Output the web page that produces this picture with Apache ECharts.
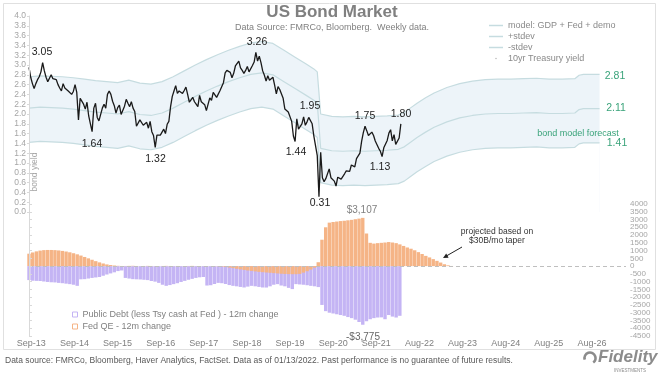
<!DOCTYPE html>
<html><head><meta charset="utf-8">
<script src="https://cdn.jsdelivr.net/npm/echarts@6/dist/echarts.min.js"></script>
<style>html,body{margin:0;padding:0;background:#fff}#c{width:665px;height:377px}</style>
</head><body><div id="c"></div>
<script>
// ---- data ----
const TICK_LABELS = ['Sep-13','Sep-14','Sep-15','Sep-16','Sep-17','Sep-18','Sep-19','Sep-20','Sep-21','Aug-22','Aug-23','Aug-24','Aug-25','Aug-26'];
const RIGHT_TICKS = [4000,3500,3000,2500,2000,1500,1000,500,0,-500,-1000,-1500,-2000,-2500,-3000,-3500,-4000,-4500];
// 10yr Treasury yield, every 2 weeks from 2013-09-06
const YIELD = [
2.95,2.75,2.62,2.52,2.62,2.70,2.76,2.86,3.05,2.88,
2.75,2.66,2.73,2.80,2.72,2.74,2.70,2.60,2.53,2.47,
2.62,2.53,2.55,2.47,2.43,2.40,2.46,2.60,2.44,1.88,
2.32,2.34,2.20,2.10,2.24,1.96,1.80,1.64,2.12,2.22,
1.93,1.86,1.87,2.12,2.20,2.12,2.40,2.47,2.40,2.26,
2.17,2.02,2.13,2.18,1.99,2.03,2.16,2.30,2.22,2.15,
2.25,2.12,2.05,1.75,1.76,1.88,1.87,1.77,1.76,1.83,
1.71,1.85,1.64,1.56,1.32,1.57,1.59,1.57,1.61,1.69,
1.60,1.79,1.85,2.15,2.36,2.47,2.58,2.42,2.47,2.48,
2.42,2.48,2.55,2.40,2.24,2.29,2.34,2.25,2.20,2.15,
2.38,2.25,2.26,2.19,2.07,2.20,2.33,2.28,2.44,2.40,
2.34,2.38,2.48,2.48,2.64,2.84,2.89,2.86,2.85,2.74,
2.83,2.98,2.97,3.08,2.94,2.89,2.83,2.89,2.97,2.86,
2.86,2.99,3.06,3.26,3.08,3.18,3.05,2.88,2.79,2.67,
2.78,2.69,2.66,2.75,2.59,2.41,2.56,2.50,2.46,2.32,
2.10,2.06,2.04,2.05,1.85,1.55,1.44,1.90,1.69,1.73,
1.80,1.94,1.77,1.84,1.93,1.95,1.80,1.55,1.59,1.15,
0.31,1.22,0.70,0.62,0.68,0.66,0.88,0.70,0.67,0.63,
0.53,0.71,0.72,0.67,0.66,0.78,0.84,0.82,0.83,0.96,
0.95,0.92,1.09,1.07,1.20,1.44,1.62,1.75,1.66,1.56,
1.58,1.63,1.56,1.45,1.43,1.30,1.24,1.13,1.31,1.34,
1.46,1.61,1.68,1.45,1.58,1.38,1.42,1.51,1.80];
// bond model (weeks since 2013-09-06)
const BAND_WEEKS = [0,13,26,39,52,65,78,91,104,117,130,143,156,169,182,195,208,221,234,247,260,273,286,299,312,325,334,338,342,355,368,381,394,407,420,433,440,447,455,465,475,490,505,520,535,550,565,580,595,610,625,640,645,650,655,669];
const MODEL = [2.12,2.14,2.13,2.12,2.10,2.07,2.04,2.02,2.00,2.05,1.99,1.97,2.02,2.12,2.24,2.36,2.47,2.57,2.66,2.74,2.81,2.84,2.80,2.66,2.52,2.38,2.28,2.22,1.30,1.25,1.24,1.25,1.24,1.25,1.26,1.28,1.33,1.42,1.52,1.63,1.73,1.84,1.92,1.97,2.00,2.01,2.01,2.02,2.03,2.01,2.01,2.02,2.09,2.11,2.11,2.11];
const UPPER = [2.76,2.78,2.77,2.76,2.74,2.71,2.68,2.66,2.64,2.69,2.63,2.61,2.66,2.76,2.88,3.00,3.11,3.21,3.30,3.38,3.45,3.48,3.44,3.30,3.16,3.02,2.92,2.86,2.00,1.95,1.94,1.95,1.94,1.95,1.96,1.98,2.03,2.12,2.22,2.33,2.43,2.54,2.62,2.67,2.70,2.71,2.71,2.72,2.73,2.71,2.71,2.72,2.79,2.81,2.81,2.81];
const LOWER = [1.42,1.44,1.43,1.42,1.40,1.37,1.34,1.32,1.30,1.35,1.29,1.27,1.32,1.42,1.54,1.66,1.77,1.87,1.96,2.04,2.11,2.14,2.10,1.96,1.82,1.68,1.58,1.52,0.60,0.55,0.54,0.55,0.54,0.55,0.56,0.58,0.63,0.72,0.82,0.93,1.03,1.14,1.22,1.27,1.30,1.31,1.31,1.32,1.33,1.31,1.31,1.32,1.39,1.41,1.41,1.41];
// monthly from Sep-2013, $B
const PUBLIC_DEBT = [
-900,-940,-950,-960,-990,-1020,-1040,-1050,-1080,-1100,
-1130,-1160,-1200,-1270,-850,-840,-800,-760,-730,-700,
-620,-540,-470,-400,-320,-280,-760,-800,-840,-850,
-860,-880,-900,-960,-1000,-1080,-1200,-1270,-1220,-1160,
-1100,-1020,-950,-880,-820,-760,-720,-700,-1250,-1230,
-1150,-1080,-1100,-1150,-1220,-1270,-1300,-1340,-1375,-1320,
-1270,-1300,-1340,-1375,-1380,-1300,-1200,-1160,-1250,-1300,
-1400,-1480,-1160,-1180,-1200,-1230,-1270,-1300,-1350,-2500,
-2900,-3000,-3050,-3100,-3150,-3200,-3280,-3350,-3450,-3600,
-3775,-3550,-3420,-3350,-3310,-3300,-3420,-3150,-3250,-3310,-3200];
const FED_QE = [
800,880,950,1000,1030,1040,1040,1030,1010,980,
940,890,830,760,680,590,500,410,320,240,
170,110,70,40,20,10,10,15,20,10,
5,10,15,10,5,0,10,15,10,5,
10,5,0,10,15,5,0,5,0,-5,
-10,-15,-30,-60,-90,-130,-170,-210,-245,-280,
-310,-340,-370,-390,-410,-430,-450,-470,-490,-505,
-515,-520,-520,-500,-420,-330,-220,-100,250,1700,
2500,2800,2840,2870,2900,2920,2950,2980,3020,3060,
3107,2100,1500,1450,1480,1500,1520,1550,1520,1480,
1400,1300,1200,1120,1020,900,780,660,560,450,
340,230,120,50,10];

// ---- helpers (axis placement, not data) ----
const WEEKS_PER_MONTH = 52.18 / 12;
const TICK_FIRST = 2.7, TICK_STEP = 50.57;
const tickWeeks = TICK_LABELS.map((_, k) => TICK_FIRST + k * TICK_STEP);
const rightA = RIGHT_TICKS.filter((_, k) => k % 2 === 0);
const rightB = RIGHT_TICKS.filter((_, k) => k % 2 === 1);
const FONT = '"Liberation Sans", Arial, sans-serif';
const LINE_C = '#c6dce0', FILL_C = '#edf4f9';
const PURPLE = '#c4b4f4', ORANGE = '#f5b486';

const yieldData = YIELD.map((v, i) => [i * 2, v]);
const band = arr => arr.map((v, i) => [BAND_WEEKS[i], v]);
const debtData = PUBLIC_DEBT.map((v, m) => [m * WEEKS_PER_MONTH, v]);
const qeData = FED_QE.map((v, m) => [m * WEEKS_PER_MONTH, v]);

const chart = echarts.init(document.getElementById('c'), null, {renderer: 'canvas'});

function txt(t, x, y, size, color, extra, el) {
  return Object.assign({
    type: 'text', x: x, y: y, silent: true, z: 50,
    style: Object.assign({text: t, fontSize: size, fontFamily: FONT, fill: color,
      align: 'center', verticalAlign: 'middle', textAlign: 'center', textVerticalAlign: 'middle'}, extra || {})
  }, el || {});
}
const rightLabel = vals => ({fontSize: 8, color: '#a6a6a6', margin: 4, showMinLabel: true, showMaxLabel: true,
  customValues: vals, formatter: v => String(v)});

const option = {
  animation: false,
  backgroundColor: '#fff',
  textStyle: {fontFamily: FONT},
  title: {
    text: 'US Bond Market', subtext: 'Data Source: FMRCo, Bloomberg.  Weekly data.',
    left: 332, top: 4, textAlign: 'center', padding: 0, itemGap: 2,
    textStyle: {fontSize: 17, fontWeight: 'bold', color: '#808080', fontFamily: FONT},
    subtextStyle: {fontSize: 9, color: '#808080', fontFamily: FONT}
  },
  legend: [{
    orient: 'vertical', left: 489, top: 21, padding: 0, itemGap: 2,
    itemWidth: 14, itemHeight: 1.5, icon: 'rect',
    textStyle: {fontSize: 9, color: '#8a8a8a', fontFamily: FONT},
    data: ['model: GDP + Fed + demo', '+stdev', '-stdev',
      {name: '10yr Treasury yield', icon: 'circle', itemStyle: {color: '#b5b5b5'}}]
  }, {
    orient: 'vertical', left: 72, top: 310, padding: 0, itemGap: 3,
    itemWidth: 5, itemHeight: 5, icon: 'rect',
    textStyle: {fontSize: 9, color: '#808080', fontFamily: FONT},
    data: [
      {name: 'Public Debt (less Tsy cash at Fed ) - 12m change', itemStyle: {color: '#fff', borderColor: PURPLE, borderWidth: 1}},
      {name: 'Fed QE - 12m change', itemStyle: {color: '#fff', borderColor: ORANGE, borderWidth: 1}}
    ]
  }],
  grid: [
    {left: 29, right: 39, top: 16, bottom: 165},
    {left: 29, right: 39, top: 204, bottom: 41}
  ],
  xAxis: [
    {type: 'value', gridIndex: 0, min: 0, max: 700, show: false},
    {type: 'value', gridIndex: 1, min: 0, max: 700,
      axisLine: {show: false}, axisTick: {show: false}, splitLine: {show: false},
      axisLabel: {customValues: tickWeeks, fontSize: 9, color: '#7f7f7f', margin: 3,
        formatter: v => {
          let best = 0;
          tickWeeks.forEach((t, k) => { if (Math.abs(t - v) < Math.abs(tickWeeks[best] - v)) best = k; });
          return TICK_LABELS[best];
        }}}
  ],
  yAxis: [
    {type: 'value', gridIndex: 0, min: 0, max: 4, interval: 0.2, position: 'left', z: 10,
      axisLine: {show: true, lineStyle: {color: '#d9d9d9'}},
      axisTick: {show: true, length: 2, lineStyle: {color: '#d9d9d9'}},
      splitLine: {show: false},
      axisLabel: {fontSize: 8.5, color: '#a6a6a6', margin: 3, showMinLabel: true, showMaxLabel: true,
        formatter: v => v.toFixed(1)}},
    {type: 'value', gridIndex: 1, min: -4500, max: 4000, interval: 500, position: 'right', z: 10,
      axisLine: {show: true, lineStyle: {color: '#d9d9d9'}},
      axisTick: {show: true, length: 3, customValues: RIGHT_TICKS, lineStyle: {color: '#d9d9d9'}},
      splitLine: {show: false},
      axisLabel: rightLabel(rightA)},
    {type: 'value', gridIndex: 1, min: -4500, max: 4000, interval: 500, position: 'right', z: 10,
      axisLine: {show: false}, axisTick: {show: false}, splitLine: {show: false},
      axisLabel: rightLabel(rightB)}
  ],
  series: [
    {name: 'band-top', type: 'line', xAxisIndex: 0, yAxisIndex: 0, data: band(UPPER),
      symbol: 'none', silent: true, lineStyle: {opacity: 0}, areaStyle: {color: FILL_C, opacity: 1, origin: 'start'}, z: 1},
    {name: 'band-bottom', type: 'line', xAxisIndex: 0, yAxisIndex: 0, data: band(LOWER),
      symbol: 'none', silent: true, lineStyle: {opacity: 0}, areaStyle: {color: '#ffffff', opacity: 1, origin: 'start'}, z: 1.5},
    {name: '+stdev', type: 'line', xAxisIndex: 0, yAxisIndex: 0, data: band(UPPER), symbol: 'none',
      itemStyle: {color: LINE_C}, lineStyle: {color: LINE_C, width: 1.2}, z: 2},
    {name: 'model: GDP + Fed + demo', type: 'line', xAxisIndex: 0, yAxisIndex: 0, data: band(MODEL), symbol: 'none',
      itemStyle: {color: LINE_C}, lineStyle: {color: LINE_C, width: 1.2}, z: 2},
    {name: '-stdev', type: 'line', xAxisIndex: 0, yAxisIndex: 0, data: band(LOWER), symbol: 'none',
      itemStyle: {color: LINE_C}, lineStyle: {color: LINE_C, width: 1.2}, z: 2},
    {name: '10yr Treasury yield', type: 'line', xAxisIndex: 0, yAxisIndex: 0, data: yieldData, symbol: 'none',
      itemStyle: {color: '#1a1a1a'}, lineStyle: {color: '#1a1a1a', width: 1.3}, z: 5},
    {name: 'zero', type: 'line', xAxisIndex: 1, yAxisIndex: 1, data: [], z: 1, silent: true,
      markLine: {silent: true, symbol: 'none', label: {show: false},
        lineStyle: {color: '#bfbfbf', type: [4, 3], width: 1}, data: [{yAxis: 0}]}},
    {name: 'Public Debt (less Tsy cash at Fed ) - 12m change', type: 'bar', xAxisIndex: 1, yAxisIndex: 1,
      data: debtData, barWidth: 3.4, barGap: '-100%', itemStyle: {color: PURPLE}, z: 3},
    {name: 'Fed QE - 12m change', type: 'bar', xAxisIndex: 1, yAxisIndex: 1,
      data: qeData, barWidth: 3.4, barGap: '-100%', itemStyle: {color: ORANGE}, z: 4}
  ],
  graphic: [
    {type: 'rect', silent: true, z: -10, shape: {x: 3.5, y: 3.5, width: 652, height: 346},
      style: {fill: 'none', stroke: '#e0e0e0', lineWidth: 1}},
    txt('bond yield', 35, 172, 8.5, '#a6a6a6', {}, {rotation: Math.PI / 2}),
    txt('3.05', 42, 52, 10.5, '#222'),
    txt('3.26', 257, 42.5, 10.5, '#222'),
    txt('1.95', 310, 106, 10.5, '#222'),
    txt('1.64', 92, 144, 10.5, '#222'),
    txt('1.32', 155.5, 159, 10.5, '#222'),
    txt('1.44', 296, 152.5, 10.5, '#222'),
    txt('0.31', 320, 203, 10.5, '#222'),
    txt('1.75', 365, 116, 10.5, '#222'),
    txt('1.80', 401, 114, 10.5, '#222'),
    txt('1.13', 380, 167.5, 10.5, '#222'),
    txt('2.81', 615, 76, 10.5, '#3aa37a'),
    txt('2.11', 616, 108.5, 10.5, '#3aa37a'),
    txt('1.41', 617, 143, 10.5, '#3aa37a'),
    txt('bond model forecast', 578, 133.5, 9, '#3aa37a'),
    txt('$3,107', 362, 210.5, 10, '#808080'),
    txt('-$3,775', 363, 337, 10, '#666'),
    txt('projected based on', 497, 231.5, 8.5, '#333'),
    txt('$30B/mo taper', 497, 240.5, 8.5, '#333'),
    {type: 'line', silent: true, z: 50, shape: {x1: 462, y1: 247, x2: 446, y2: 256.2}, style: {stroke: '#222', lineWidth: 1}},
    {type: 'polygon', silent: true, z: 50, shape: {points: [[443, 258], [448.6, 257.8], [446.2, 253.4]]}, style: {fill: '#222'}},
    txt('Data source: FMRCo, Bloomberg, Haver Analytics, FactSet. Data as of 01/13/2022. Past performance is no guarantee of future results.',
      5, 361, 8.5, '#595959', {align: 'left', textAlign: 'left', fontFamily: '"Liberation Sans Narrow", "Liberation Sans", Arial, sans-serif'}),
    {type: 'arc', silent: true, z: 50, shape: {cx: 590, cy: 358, r: 5.5, startAngle: Math.PI * 0.9, endAngle: Math.PI * 2.3},
      style: {stroke: '#8c8c8c', lineWidth: 2.6, fill: 'none'}},
    txt('Fidelity', 598, 357, 17, '#8c8c8c', {align: 'left', textAlign: 'left', fontWeight: 'bold', fontStyle: 'italic'}),
    txt('INVESTMENTS', 630, 371, 4.5, '#8c8c8c', {})
  ]
};
chart.setOption(option);
</script></body></html>
